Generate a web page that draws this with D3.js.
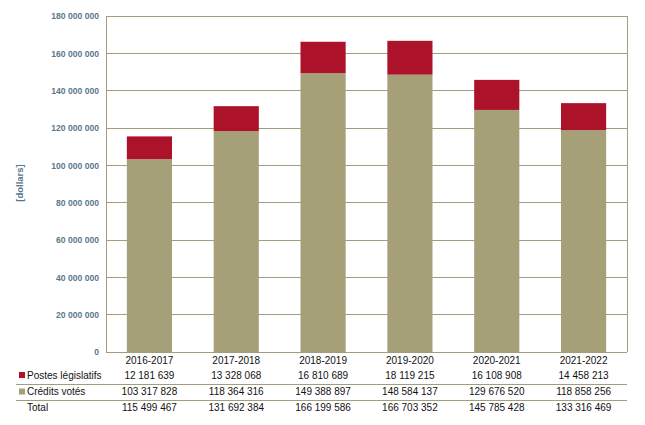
<!DOCTYPE html>
<html><head><meta charset="utf-8">
<script src="https://cdn.jsdelivr.net/npm/d3@7"></script>
<style>body{margin:0;background:#fff}svg{display:block}</style>
</head><body>
<script>
const categories = ["2016-2017","2017-2018","2018-2019","2019-2020","2020-2021","2021-2022"];
const postesLegislatifs = [12181639,13328068,16810689,18119215,16108908,14458213];
const creditsVotes = [103317828,118364316,149388897,148584137,129676520,118858256];
const totals = [115499467,131692384,166199586,166703352,145785428,133316469];
const yTicks = [0,20000000,40000000,60000000,80000000,100000000,120000000,140000000,160000000,180000000];
const seriesNames = ["Postes législatifs","Crédits votés","Total"];

const W=645,H=425;
const L=106,R=627,T=16,B=352;
const cRed="#AC1229", cOlive="#A6A078", cGrid="#A29E7C", cAxisTxt="#5A778C";
const svg=d3.select("body").append("svg").attr("width",W).attr("height",H);
const x=d3.scaleBand().domain(categories).range([L,R]).paddingInner(0.48).paddingOuter(0.24);
const y=d3.scaleLinear().domain([0,180000000]).range([B,T]);
const fmt=v=>d3.format(",")(v).replace(/,/g," ");

svg.append("g").selectAll("line").data(yTicks).join("line")
 .attr("x1",L).attr("x2",R).attr("y1",d=>y(d)).attr("y2",d=>y(d))
 .attr("stroke",cGrid).attr("stroke-width",1).attr("shape-rendering","crispEdges");
svg.append("path").attr("d",`M${L},${B}V${T}H${R}V${B}`).attr("fill","none")
 .attr("stroke",cGrid).attr("shape-rendering","crispEdges");

const stack=categories.map((c,i)=>({c,credits:creditsVotes[i],postes:postesLegislatifs[i]}));
svg.append("g").selectAll("rect").data(stack).join("rect")
 .attr("x",d=>x(d.c)).attr("width",x.bandwidth())
 .attr("y",d=>y(d.credits)).attr("height",d=>y(0)-y(d.credits)).attr("fill",cOlive);
svg.append("g").selectAll("rect").data(stack).join("rect")
 .attr("x",d=>x(d.c)).attr("width",x.bandwidth())
 .attr("y",d=>y(d.credits+d.postes)).attr("height",d=>y(d.credits)-y(d.credits+d.postes)).attr("fill",cRed);

const yAxis=d3.axisLeft(y).tickValues(yTicks).tickSize(0).tickPadding(7).tickFormat(fmt);
const ga=svg.append("g").attr("transform",`translate(${L},0)`).call(yAxis);
ga.select(".domain").remove();
ga.selectAll("text").attr("fill",cAxisTxt).attr("font-family","Arial, 'Liberation Sans', sans-serif")
 .attr("font-size","8.6px").attr("font-weight","700");

svg.append("text").attr("transform","translate(23,183) rotate(-90)").attr("text-anchor","middle")
 .attr("fill",cAxisTxt).attr("font-family","Arial, 'Liberation Sans', sans-serif")
 .attr("font-size","9.5px").attr("font-weight","700").text("[dollars]");

const tf="Arial, 'Liberation Sans', sans-serif";
const fs="10px";
const xc=c=>x(c)+x.bandwidth()/2;
const rowsY=[363.5,378.5,394.5,411];
svg.append("g").selectAll("text").data(categories).join("text")
 .attr("x",xc).attr("y",rowsY[0]).attr("text-anchor","middle")
 .attr("font-family",tf).attr("font-size",fs).attr("fill","#111").text(d=>d);
const rows=[postesLegislatifs,creditsVotes,totals];
rows.forEach((arr,ri)=>{
  svg.append("g").selectAll("text").data(arr).join("text")
   .attr("x",(d,i)=>xc(categories[i])).attr("y",rowsY[ri+1]).attr("text-anchor","middle")
   .attr("font-family",tf).attr("font-size",fs).attr("fill","#111").text(d=>fmt(d));
  svg.append("text").attr("x",27).attr("y",rowsY[ri+1]).attr("font-family",tf).attr("font-size",fs)
   .attr("fill","#111").text(seriesNames[ri]);
});
svg.append("rect").attr("x",19).attr("y",372).attr("width",6).attr("height",6).attr("fill",cRed);
svg.append("rect").attr("x",19).attr("y",388.5).attr("width",6).attr("height",6).attr("fill",cOlive);
[384.5,400.5].forEach(yy=>svg.append("line").attr("x1",16).attr("x2",R).attr("y1",yy).attr("y2",yy)
  .attr("stroke",cGrid).attr("shape-rendering","crispEdges"));
</script>
</body></html>
